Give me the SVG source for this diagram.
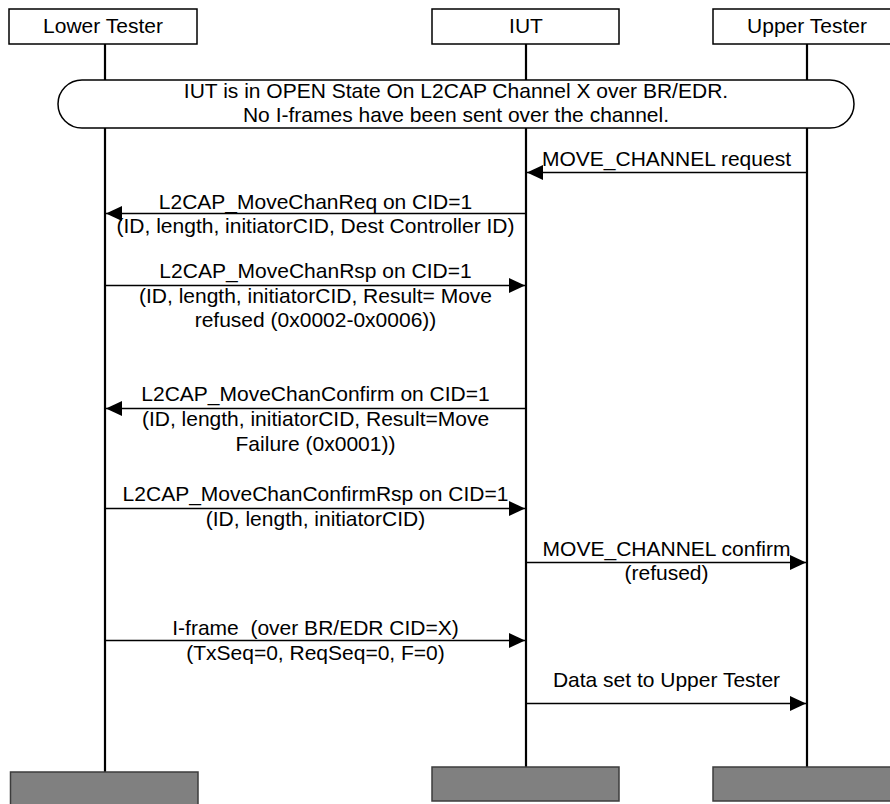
<svg xmlns="http://www.w3.org/2000/svg" width="890" height="804" viewBox="0 0 890 804">
<style>
  text { font-family: "Liberation Sans", Arial, sans-serif; font-size: 21px; fill: #000; text-anchor: middle; white-space: pre; }
  .box { fill: #fff; stroke: #000; stroke-width: 1.5; }
  .end { fill: #808080; stroke: #3c3c3c; stroke-width: 1.5; }
  .life { stroke: #000; stroke-width: 2.2; fill: none; }
  .msg { stroke: #000; stroke-width: 1.6; fill: none; marker-end: url(#ah); }
  .cap { fill: #fff; stroke: #000; stroke-width: 1.5; }
</style>
<defs>
  <marker id="ah" markerUnits="userSpaceOnUse" markerWidth="16" markerHeight="16" refX="16" refY="7.5" orient="auto">
    <path d="M0,0 L16,7.5 L0,15 Z" fill="#000"/>
  </marker>
</defs>
<rect width="890" height="804" fill="#fff"/>

<g id="lifelines">
  <line class="life" x1="105" y1="44" x2="105" y2="772"/>
  <line class="life" x1="526" y1="44" x2="526" y2="767"/>
  <line class="life" x1="807" y1="44" x2="807" y2="767"/>
</g>

<g id="lower-tester">
  <rect class="box" x="9" y="9" width="188" height="35"/>
  <text x="103" y="33">Lower Tester</text>
  <rect class="end" x="10.5" y="772" width="187.5" height="34"/>
</g>
<g id="iut">
  <rect class="box" x="432" y="9" width="187" height="35"/>
  <text x="526" y="33">IUT</text>
  <rect class="end" x="432" y="767" width="187" height="34"/>
</g>
<g id="upper-tester">
  <rect class="box" x="713" y="9" width="190" height="35"/>
  <text x="807" y="33">Upper Tester</text>
  <rect class="end" x="713" y="767" width="190" height="34"/>
</g>

<g id="condition">
  <rect class="cap" x="58" y="80" width="796" height="48" rx="24" ry="24"/>
  <text x="456" y="98">IUT is in OPEN State On L2CAP Channel X over BR/EDR.</text>
  <text x="456" y="121.5">No I-frames have been sent over the channel.</text>
</g>

<g id="connectors">
  <line class="msg" x1="807" y1="172.5" x2="527" y2="172.5"/>
  <line class="msg" x1="526" y1="213.5" x2="106" y2="213.5"/>
  <line class="msg" x1="105" y1="285.5" x2="525" y2="285.5"/>
  <line class="msg" x1="526" y1="408.5" x2="106" y2="408.5"/>
  <line class="msg" x1="105" y1="508.5" x2="525" y2="508.5"/>
  <line class="msg" x1="526" y1="562.5" x2="806" y2="562.5"/>
  <line class="msg" x1="105" y1="640.5" x2="525" y2="640.5"/>
  <line class="msg" x1="526" y1="703.5" x2="806" y2="703.5"/>
</g>

<g id="labels">
  <text x="666.5" y="166">MOVE_CHANNEL request</text>

  <text x="315.5" y="209">L2CAP_MoveChanReq on CID=1</text>
  <text x="315.5" y="232.5">(ID, length, initiatorCID, Dest Controller ID)</text>

  <text x="315.5" y="278">L2CAP_MoveChanRsp on CID=1</text>
  <text x="315.5" y="302.5">(ID, length, initiatorCID, Result= Move</text>
  <text x="315.5" y="326.5">refused (0x0002-0x0006))</text>

  <text x="315.5" y="401">L2CAP_MoveChanConfirm on CID=1</text>
  <text x="315.5" y="426">(ID, length, initiatorCID, Result=Move</text>
  <text x="315.5" y="451">Failure (0x0001))</text>

  <text x="315.5" y="501">L2CAP_MoveChanConfirmRsp on CID=1</text>
  <text x="315.5" y="526">(ID, length, initiatorCID)</text>

  <text x="666.5" y="556">MOVE_CHANNEL confirm</text>
  <text x="666.5" y="580">(refused)</text>

  <text x="315.5" y="635">I-frame  (over BR/EDR CID=X)</text>
  <text x="315.5" y="660">(TxSeq=0, ReqSeq=0, F=0)</text>

  <text x="666.5" y="686.5">Data set to Upper Tester</text>
</g>
</svg>
